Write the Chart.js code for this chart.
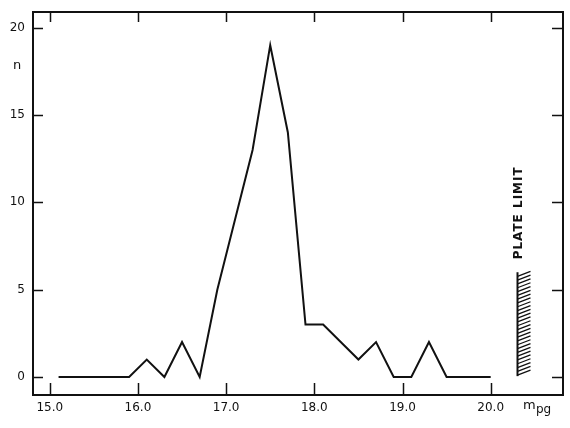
<!DOCTYPE html>
<html>
<head>
<meta charset="utf-8">
<script src="https://cdn.jsdelivr.net/npm/chart.js@4"></script>
<style>
  html, body { margin: 0; padding: 0; background: #fff; }
  #wrap { position: relative; width: 570px; height: 428px; }
</style>
</head>
<body>
<div id="wrap"><canvas id="chart"></canvas></div>
<script>
// magnitudes (m_pg) and counts
const mags   = [15.1, 15.9, 16.1, 16.3, 16.5, 16.7, 16.9, 17.3, 17.5, 17.7, 17.9, 18.1, 18.5, 18.7, 18.9, 19.1, 19.3, 19.5, 20.0];
const counts = [0,    0,    1,    0,    2,    0,    5,    13,   19,   14,   3,    3,    1,    2,    0,    0,    2,    0,    0];

const xTicks = [15, 16, 17, 18, 19, 20];
const yTicks = [0, 5, 10, 15, 20];

const plateLimit = 20.3;
const plateLow = 0.05;
const plateHigh = 6;

const FONT = "DejaVu Sans";

// frame, inward ticks, labels and the plate-limit hatch
const axesPlugin = {
  id: "axesPlugin",
  afterDraw(chart) {
    const ctx = chart.ctx;
    const a = chart.chartArea;
    const xs = chart.scales.x, ys = chart.scales.y;
    ctx.save();
    ctx.strokeStyle = "#111";
    ctx.fillStyle = "#111";
    ctx.lineWidth = 2;
    ctx.strokeRect(a.left, a.top, a.right - a.left, a.bottom - a.top);

    ctx.lineWidth = 1.5;
    ctx.beginPath();
    xTicks.forEach(v => {
      const px = Math.round(xs.getPixelForValue(v)) + 0.5;
      ctx.moveTo(px, a.bottom); ctx.lineTo(px, a.bottom - 12);
      ctx.moveTo(px, a.top); ctx.lineTo(px, a.top + 10);
    });
    yTicks.forEach(v => {
      const py = Math.round(ys.getPixelForValue(v)) + 0.5;
      ctx.moveTo(a.left, py); ctx.lineTo(a.left + 10, py);
      ctx.moveTo(a.right, py); ctx.lineTo(a.right - 11, py);
    });
    ctx.stroke();

    ctx.font = "12px '" + FONT + "'";
    ctx.textBaseline = "middle";
    ctx.textAlign = "center";
    xTicks.forEach(v => {
      ctx.fillText(v.toFixed(1), xs.getPixelForValue(v), a.bottom + 13);
    });
    ctx.textAlign = "right";
    yTicks.forEach(v => {
      ctx.fillText(String(v), a.left - 8, ys.getPixelForValue(v));
    });

    // axis labels
    ctx.textAlign = "center";
    ctx.font = "13px '" + FONT + "'";
    ctx.fillText("n", 17, 66);
    ctx.textAlign = "left";
    ctx.fillText("m", 523, 406);
    ctx.font = "12px '" + FONT + "'";
    ctx.fillText("pg", 536, 410);

    // plate limit hatch
    const hx = Math.round(xs.getPixelForValue(plateLimit)) + 0.5;
    const yTop = ys.getPixelForValue(plateHigh);
    const yBot = ys.getPixelForValue(plateLow);
    ctx.lineWidth = 2;
    ctx.beginPath();
    ctx.moveTo(hx, yTop); ctx.lineTo(hx, yBot);
    ctx.stroke();
    ctx.lineWidth = 1.3;
    ctx.beginPath();
    for (let y = yBot - 1; y > yTop + 3; y -= 3.8) {
      ctx.moveTo(hx, y); ctx.lineTo(hx + 13, y - 5);
    }
    ctx.stroke();

    ctx.translate(hx + 1, ys.getPixelForValue(9.4));
    ctx.rotate(-Math.PI / 2);
    ctx.textAlign = "center";
    ctx.font = "bold 12px '" + FONT + "'";
    if ("letterSpacing" in ctx) ctx.letterSpacing = "1px";
    ctx.fillText("PLATE LIMIT", 0, 0);
    ctx.restore();
  }
};

new Chart(document.getElementById("chart"), {
  type: "line",
  data: {
    datasets: [{
      data: mags.map((m, i) => ({ x: m, y: counts[i] })),
      borderColor: "#111",
      borderWidth: 2,
      pointRadius: 0,
      tension: 0,
      fill: false
    }]
  },
  options: {
    responsive: true,
    maintainAspectRatio: false,
    animation: false,
    layout: { padding: { left: 33, right: 7, top: 12, bottom: 33 } },
    plugins: { legend: { display: false }, tooltip: { enabled: false } },
    scales: {
      x: { type: "linear", min: 14.81, max: 20.82, display: false },
      y: { type: "linear", min: -1.03, max: 20.9, display: false }
    }
  },
  plugins: [axesPlugin]
});
</script>
</body>
</html>
